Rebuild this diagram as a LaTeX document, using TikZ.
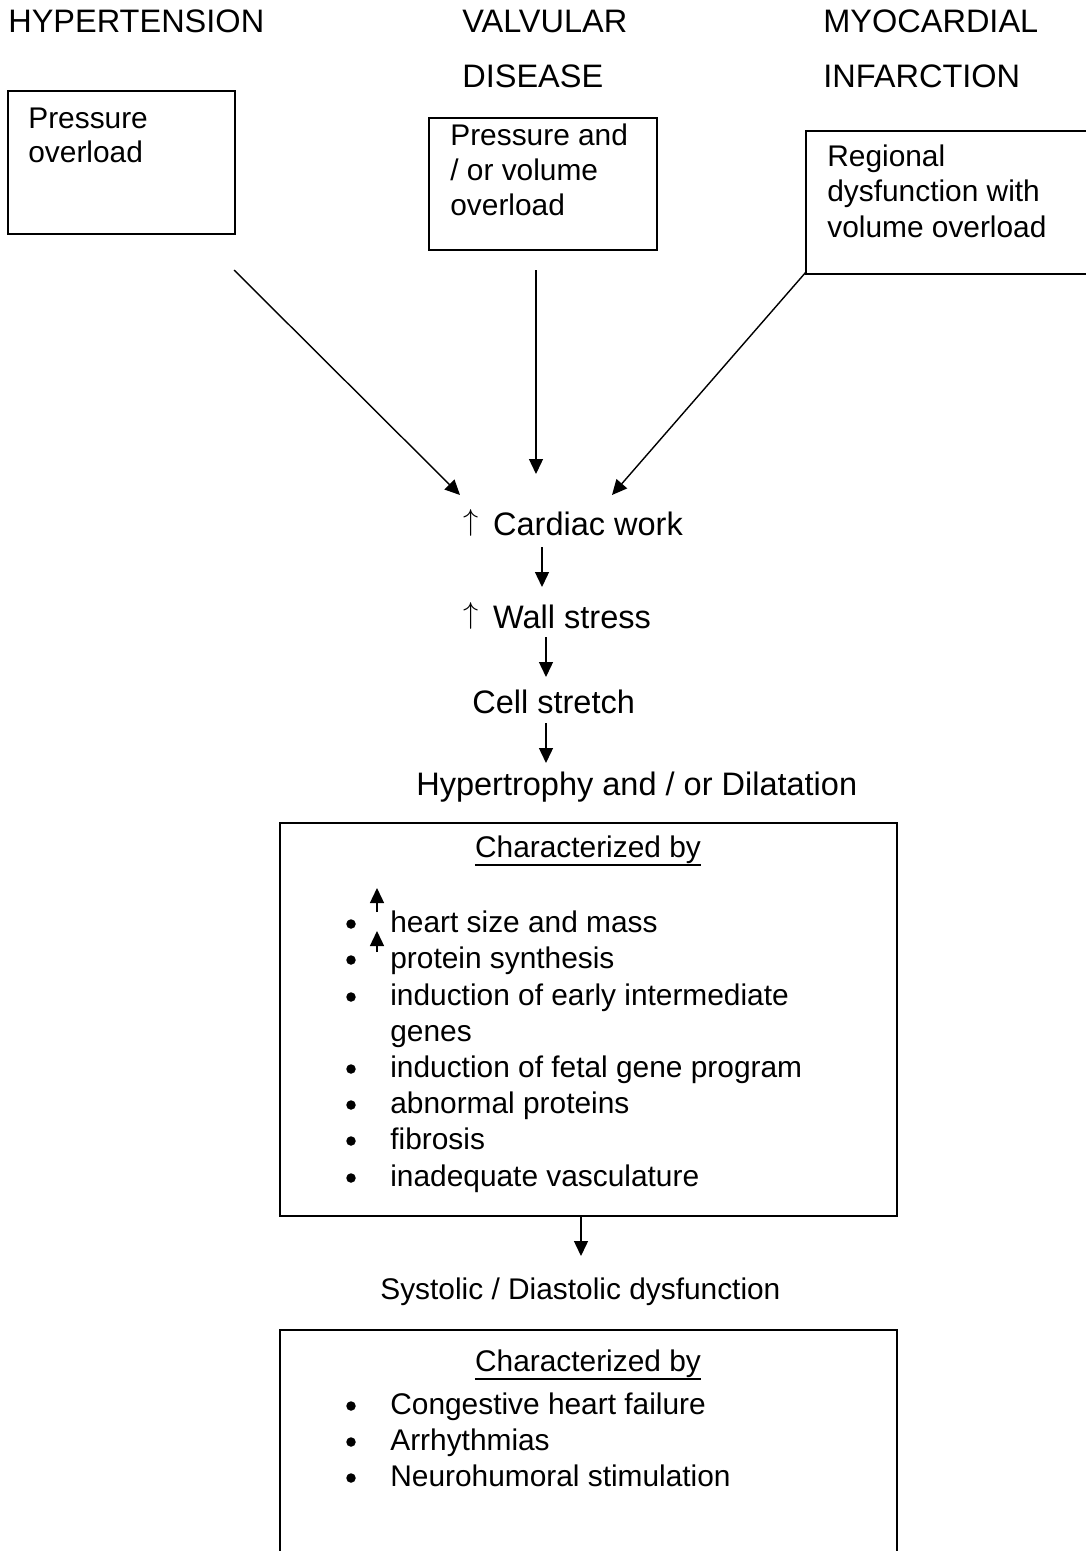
\documentclass[tikz,border=0pt]{standalone}
\usepackage{fontspec}
\setmainfont{Liberation Sans}
\usetikzlibrary{arrows.meta, calc}

\newcommand{\upmark}{\raisebox{0.13em}{$\uparrow$}\hspace{0.45em}}

\tikzset{
	headtext/.style={anchor=base west, inner sep=0pt, font=\fontsize{18.5}{22}\selectfont},
	flowtext/.style={anchor=base west, inner sep=0pt, font=\fontsize{18.5}{22}\selectfont},
	boxtext/.style={anchor=base west, inner sep=0pt, font=\fontsize{17}{20}\selectfont},
	bulletdot/.style={circle, fill, inner sep=0pt, minimum size=0.19cm},
	flowbox/.style={draw, line width=1.1pt},
	flowarrow/.style={line width=0.8pt, -{Triangle[length=3mm, width=2.8mm]}},
}

\begin{document}
\begin{tikzpicture}[x=0.02cm, y=-0.02cm]

	\useasboundingbox (0,0) rectangle (1085,1551);

	% causes
	\node[headtext] (hyper) at (8,33) {HYPERTENSION};
	\node[headtext] (valvA) at (462,33) {VALVULAR};
	\node[headtext] (valvB) at (462,88) {DISEASE};
	\node[headtext] (myoA) at (823,33) {MYOCARDIAL};
	\node[headtext] (myoB) at (823,88) {INFARCTION};

	\draw[flowbox] (8,91) rectangle (235,234);
	\node[boxtext] (pressA) at (28,129) {Pressure};
	\node[boxtext] (pressB) at (28,163) {overload};

	\draw[flowbox] (429,118) rectangle (657,250);
	\node[boxtext] (volA) at (450,146) {Pressure and};
	\node[boxtext] (volB) at (450,181) {/ or volume};
	\node[boxtext] (volC) at (450,215) {overload};

	\draw[flowbox] (1086,131) -- (806,131) -- (806,274) -- (1086,274);
	\node[boxtext] (regA) at (827,167) {Regional};
	\node[boxtext] (regB) at (827,202) {dysfunction with};
	\node[boxtext] (regC) at (827,237) {volume overload};

	\coordinate (fromHyper) at (234,270);
	\coordinate (fromValv) at (536,270);
	\coordinate (fromMyo) at (806,272);
	\coordinate (toWorkL) at (460,495);
	\coordinate (toWorkM) at (536,474);
	\coordinate (toWorkR) at (612,495);
	\draw[flowarrow] (fromHyper) -- (toWorkL);
	\draw[flowarrow] (fromValv) -- (toWorkM);
	\draw[flowarrow] (fromMyo) -- (toWorkR);

	% chain
	\node[flowtext] (work) at (463,535) {\upmark Cardiac work};
	\node[flowtext] (stress) at (463,628) {\upmark Wall stress};
	\node[flowtext] (stretch) at (472,713) {Cell stretch};
	\node[flowtext] (hyptro) at (416,795) {Hypertrophy and / or Dilatation};

	\draw[flowarrow] ($ (work.base west)+(79,12) $) -- ($ (work.base west)+(79,52) $);
	\draw[flowarrow] ($ (stress.base west)+(83,9) $) -- ($ (stress.base west)+(83,49) $);
	\draw[flowarrow] ($ (stretch.base west)+(74,10) $) -- ($ (stretch.base west)+(74,50) $);

	% first box
	\draw[flowbox] (280,823) rectangle (897,1216);
	\node[boxtext, anchor=base] (charA) at (588,857) {Characterized by};
	\draw[line width=1pt] ($ (charA.base west)+(0,8) $) -- ($ (charA.base east)+(0,8) $);

	\node[bulletdot] (dA) at (351,924) {};
	\node[bulletdot] (dB) at (351,960) {};
	\node[bulletdot] (dC) at (351,997) {};
	\node[bulletdot] (dD) at (351,1069) {};
	\node[bulletdot] (dE) at (351,1105) {};
	\node[bulletdot] (dF) at (351,1141) {};
	\node[bulletdot] (dG) at (351,1178) {};

	\node[boxtext] (sizeMass) at (390,932) {heart size and mass};
	\node[boxtext] (protSyn) at (390,968) {protein synthesis};
	\node[boxtext] (earlyGenes) at (390,1005) {induction of early intermediate};
	\node[boxtext] (earlyGenesB) at (390,1041) {genes};
	\node[boxtext] (fetalGenes) at (390,1077) {induction of fetal gene program};
	\node[boxtext] (abnProt) at (390,1113) {abnormal proteins};
	\node[boxtext] (fibro) at (390,1149) {fibrosis};
	\node[boxtext] (vascul) at (390,1186) {inadequate vasculature};

	\draw[flowarrow] ($ (sizeMass.base west)+(-13,-20) $) -- ($ (sizeMass.base west)+(-13,-44) $);
	\draw[flowarrow] ($ (protSyn.base west)+(-13,-16) $) -- ($ (protSyn.base west)+(-13,-37) $);

	\coordinate (boxOut) at (581,1216);
	\coordinate (toDys) at (581,1256);
	\draw[flowarrow] (boxOut) -- (toDys);

	\node[boxtext] (dysfun) at (380,1299) {Systolic / Diastolic dysfunction};

	% second box
	\draw[flowbox] (280,1552) -- (280,1330) -- (897,1330) -- (897,1552);
	\node[boxtext, anchor=base] (charB) at (588,1371) {Characterized by};
	\draw[line width=1pt] ($ (charB.base west)+(0,8) $) -- ($ (charB.base east)+(0,8) $);

	\node[bulletdot] (eA) at (351,1406) {};
	\node[bulletdot] (eB) at (351,1442) {};
	\node[bulletdot] (eC) at (351,1478) {};
	\node[boxtext] (chf) at (390,1414) {Congestive heart failure};
	\node[boxtext] (arrh) at (390,1450) {Arrhythmias};
	\node[boxtext] (neuro) at (390,1486) {Neurohumoral stimulation};

\end{tikzpicture}
\end{document}
